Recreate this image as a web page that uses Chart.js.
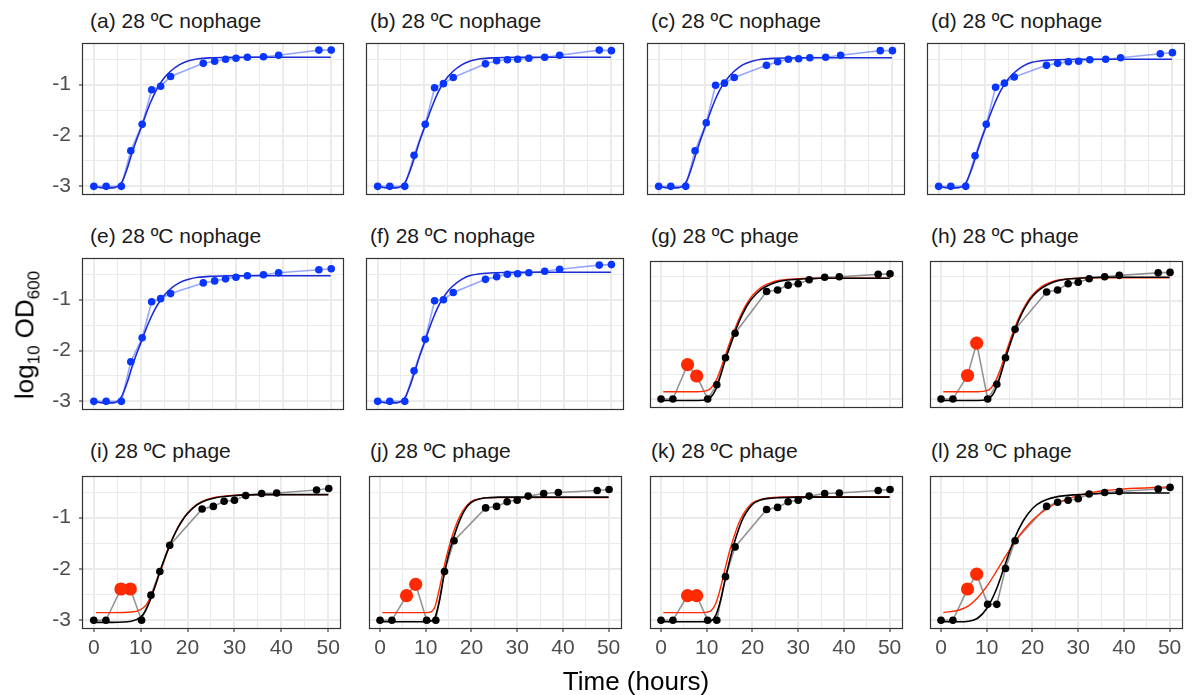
<!DOCTYPE html>
<html>
<head>
<meta charset="utf-8">
<script src="https://cdn.jsdelivr.net/npm/chart.js@4"></script>
<style>
  body { margin: 0; background: #fff; }
  #wrap { position: relative; width: 1196px; height: 695px; overflow: hidden; font-family: "Liberation Sans", Arial, sans-serif; }
  canvas { position: absolute; }
  .ttl { position: absolute; font-size: 21px; line-height: 21px; color: #1a1a1a; white-space: nowrap; }
  .axt { position: absolute; font-size: 26px; color: #000; white-space: nowrap; transform: translate(-50%, -50%); }
</style>
</head>
<body>
<div id="wrap"></div>
<script>
// sampling times (hours), shared by every panel
var times = [0, 2.6, 5.8, 7.8, 10.2, 12.2, 14.1, 16.2, 23.1, 25.5, 27.8, 30.0, 32.4, 35.8, 39.0, 47.5, 50.1];

// log10 OD600 readings, nophage panels
var odA = [-3, -3, -3, -2.30, -1.78, -1.10, -1.03, -0.84, -0.58, -0.54, -0.50, -0.48, -0.46, -0.45, -0.42, -0.32, -0.32];
var odB = [-3, -3, -3, -2.39, -1.78, -1.06, -0.98, -0.86, -0.59, -0.53, -0.51, -0.50, -0.48, -0.46, -0.42, -0.32, -0.33];
var odC = [-3, -3, -3, -2.30, -1.75, -1.01, -0.97, -0.86, -0.62, -0.55, -0.50, -0.49, -0.47, -0.46, -0.42, -0.33, -0.33];
var odD = [-3, -3, -3, -2.40, -1.78, -1.05, -0.97, -0.85, -0.62, -0.58, -0.55, -0.54, -0.51, -0.50, -0.47, -0.39, -0.37];
var odE = [-3, -3, -3, -2.22, -1.75, -1.04, -0.98, -0.88, -0.67, -0.63, -0.59, -0.56, -0.53, -0.51, -0.47, -0.41, -0.39];
var odF = [-3, -3, -3, -2.40, -1.78, -1.02, -1.00, -0.86, -0.60, -0.55, -0.50, -0.49, -0.47, -0.44, -0.40, -0.32, -0.31];

// phage panels (points 3 and 4 are the red ones)
var odG = [-3, -3, -2.30, -2.53, -3, -2.71, -2.16, -1.66, -0.81, -0.78, -0.68, -0.65, -0.57, -0.52, -0.51, -0.46, -0.45];
var odH = [-3, -3, -2.52, -1.86, -3, -2.70, -2.16, -1.58, -0.82, -0.78, -0.65, -0.62, -0.55, -0.51, -0.48, -0.43, -0.42];
var odI = [-3, -3, -2.39, -2.39, -3, -2.51, -2.05, -1.54, -0.83, -0.78, -0.68, -0.66, -0.57, -0.53, -0.52, -0.46, -0.43];
var odJ = [-3, -3, -2.52, -2.30, -3, -3, -2.05, -1.45, -0.81, -0.78, -0.69, -0.66, -0.58, -0.53, -0.51, -0.47, -0.45];
var odK = [-3, -3, -2.52, -2.52, -3, -3, -2.15, -1.57, -0.84, -0.80, -0.69, -0.66, -0.58, -0.53, -0.52, -0.47, -0.45];
var odL = [-3, -3, -2.39, -2.10, -2.69, -2.69, -1.99, -1.45, -0.78, -0.70, -0.66, -0.63, -0.54, -0.51, -0.49, -0.44, -0.41];
var redIdx = [2, 3];

// fitted growth curves
var fitT = [0, 2, 4, 5, 6, 7, 8, 9, 10, 11, 12, 13, 14, 15, 16, 18, 20, 22, 25, 30, 40, 50];
var fitA = [-3.00, -3.03, -3.03, -3.00, -2.90, -2.66, -2.36, -2.09, -1.84, -1.58, -1.34, -1.14, -0.98, -0.85, -0.75, -0.61, -0.53, -0.49, -0.47, -0.46, -0.46, -0.46];
var fitB = [-3.00, -3.03, -3.03, -3.00, -2.90, -2.68, -2.40, -2.11, -1.85, -1.59, -1.35, -1.14, -0.98, -0.85, -0.75, -0.61, -0.53, -0.49, -0.47, -0.46, -0.46, -0.46];
var fitC = [-3.00, -3.03, -3.03, -3.00, -2.89, -2.65, -2.36, -2.08, -1.82, -1.56, -1.32, -1.12, -0.97, -0.85, -0.75, -0.61, -0.54, -0.50, -0.48, -0.47, -0.47, -0.47];
var fitD = [-3.00, -3.03, -3.03, -3.00, -2.90, -2.68, -2.40, -2.12, -1.86, -1.60, -1.37, -1.17, -1.01, -0.88, -0.78, -0.64, -0.56, -0.53, -0.51, -0.50, -0.50, -0.50];
var fitE = [-3.00, -3.03, -3.03, -3.00, -2.88, -2.64, -2.34, -2.07, -1.83, -1.58, -1.36, -1.17, -1.02, -0.90, -0.80, -0.67, -0.60, -0.56, -0.54, -0.53, -0.53, -0.53];
var fitF = [-3.00, -3.03, -3.03, -3.00, -2.90, -2.68, -2.40, -2.11, -1.85, -1.58, -1.34, -1.13, -0.97, -0.84, -0.74, -0.60, -0.52, -0.49, -0.47, -0.46, -0.46, -0.46];

var blackT = [0, 4, 8, 10, 11, 12, 13, 14, 15, 16, 17, 18, 19, 20, 22, 24, 26, 30, 35, 40, 50];
var redT = [0.5, 4, 8, 10, 11, 12, 13, 14, 15, 16, 17, 18, 19, 20, 22, 24, 26, 30, 35, 40, 50];
var blackG = [-3.03, -3.03, -3.03, -3.01, -2.95, -2.80, -2.53, -2.22, -1.95, -1.68, -1.44, -1.24, -1.07, -0.94, -0.76, -0.66, -0.60, -0.56, -0.54, -0.54, -0.54];
var redG = [-2.85, -2.85, -2.85, -2.83, -2.77, -2.63, -2.40, -2.13, -1.86, -1.61, -1.38, -1.18, -1.02, -0.89, -0.72, -0.63, -0.58, -0.55, -0.54, -0.54, -0.54];
var blackH = [-3.03, -3.03, -3.03, -3.01, -2.95, -2.79, -2.52, -2.20, -1.91, -1.64, -1.40, -1.20, -1.04, -0.91, -0.74, -0.64, -0.58, -0.54, -0.52, -0.52, -0.52];
var redH = [-2.85, -2.85, -2.85, -2.83, -2.77, -2.62, -2.39, -2.11, -1.83, -1.58, -1.35, -1.16, -1.00, -0.88, -0.71, -0.62, -0.57, -0.54, -0.53, -0.53, -0.53];
var blackI = [-3.04, -3.04, -3.02, -2.94, -2.82, -2.62, -2.36, -2.08, -1.82, -1.58, -1.37, -1.19, -1.04, -0.92, -0.75, -0.66, -0.61, -0.57, -0.55, -0.55, -0.55];
var redI = [-2.85, -2.85, -2.84, -2.79, -2.72, -2.57, -2.35, -2.10, -1.84, -1.59, -1.37, -1.18, -1.03, -0.91, -0.74, -0.65, -0.60, -0.56, -0.55, -0.55, -0.55];
var blackJ = [-3.03, -3.03, -3.03, -3.03, -3.02, -2.95, -2.62, -2.12, -1.72, -1.42, -1.15, -0.94, -0.79, -0.70, -0.63, -0.61, -0.60, -0.60, -0.60, -0.60, -0.60];
var redJ = [-2.85, -2.85, -2.85, -2.85, -2.84, -2.74, -2.38, -1.96, -1.60, -1.30, -1.06, -0.88, -0.76, -0.68, -0.63, -0.61, -0.61, -0.61, -0.61, -0.61, -0.61];
var blackK = [-3.03, -3.03, -3.03, -3.03, -3.01, -2.90, -2.62, -2.22, -1.84, -1.50, -1.22, -1.00, -0.85, -0.74, -0.65, -0.62, -0.61, -0.60, -0.60, -0.60, -0.60];
var redK = [-2.85, -2.85, -2.85, -2.84, -2.81, -2.67, -2.37, -2.00, -1.65, -1.36, -1.11, -0.93, -0.80, -0.71, -0.64, -0.61, -0.60, -0.59, -0.59, -0.59, -0.59];
var blackLT = [0, 4, 6, 8, 10, 12, 14, 16, 18, 20, 22, 25, 30, 35, 40, 50];
var blackL = [-3.03, -3.03, -3.02, -2.96, -2.77, -2.42, -1.92, -1.42, -1.06, -0.82, -0.69, -0.60, -0.55, -0.53, -0.52, -0.52];
var redLT = [0.5, 4, 6, 8, 10, 12, 14, 16, 18, 20, 22, 25, 30, 35, 40, 50];
var redL = [-2.85, -2.80, -2.72, -2.56, -2.34, -2.06, -1.77, -1.49, -1.25, -1.05, -0.90, -0.73, -0.57, -0.48, -0.44, -0.40];

var titles = ['(a) 28 ºC nophage', '(b) 28 ºC nophage', '(c) 28 ºC nophage', '(d) 28 ºC nophage',
  '(e) 28 ºC nophage', '(f) 28 ºC nophage', '(g) 28 ºC phage', '(h) 28 ºC phage',
  '(i) 28 ºC phage', '(j) 28 ºC phage', '(k) 28 ºC phage', '(l) 28 ºC phage'];

var xTicks = [0, 10, 20, 30, 40, 50];
var xGrid = [0, 5, 10, 15, 20, 25, 30, 35, 40, 45, 50];
var yTicks = [-3, -2, -1];
var yGrid = [-3, -2.5, -2, -1.5, -1, -0.5];

var panels = [
  { od: odA, fits: [[fitT, fitA, 'blue']] },
  { od: odB, fits: [[fitT, fitB, 'blue']] },
  { od: odC, fits: [[fitT, fitC, 'blue']] },
  { od: odD, fits: [[fitT, fitD, 'blue']] },
  { od: odE, fits: [[fitT, fitE, 'blue']] },
  { od: odF, fits: [[fitT, fitF, 'blue']] },
  { od: odG, phage: true, fits: [[blackT, blackG, 'black'], [redT, redG, 'red']] },
  { od: odH, phage: true, fits: [[blackT, blackH, 'black'], [redT, redH, 'red']] },
  { od: odI, phage: true, fits: [[blackT, blackI, 'black'], [redT, redI, 'red']] },
  { od: odJ, phage: true, fits: [[blackT, blackJ, 'black'], [redT, redJ, 'red']] },
  { od: odK, phage: true, fits: [[blackT, blackK, 'black'], [redT, redK, 'red']] },
  { od: odL, phage: true, fits: [[blackLT, blackL, 'black'], [redLT, redL, 'red']] }
];

var colLeft = [82, 362, 643, 923];
var rowTop = [39, 254, 469];
var PW = 266, PH = 160, LEFTW = 82, BOTH = 40;
var BLUE = '#0836ff', BLUE_FIT = '#1b2bd6', RED = '#ff2a00';
var FONT = '"Liberation Sans", Arial, sans-serif';

var lineCol = { blue: BLUE_FIT, black: '#000000', red: RED };

var frame = {
  id: 'frame',
  afterDraw: function (chart) {
    var a = chart.chartArea, c = chart.ctx;
    c.save();
    c.strokeStyle = '#333333';
    c.lineWidth = 1.2;
    c.strokeRect(Math.round(a.left) + 0.5, Math.round(a.top) + 0.5, Math.round(a.right - a.left) - 1, Math.round(a.bottom - a.top) - 1);
    c.restore();
  }
};

function noPad(s) {
  s.paddingLeft = 0; s.paddingRight = 0; s.paddingTop = 0; s.paddingBottom = 0;
}

function pts(xs, ys) {
  return xs.map(function (x, i) { return { x: x, y: ys[i] }; });
}

var wrap = document.getElementById('wrap');

panels.forEach(function (p, k) {
  var col = k % 4, row = Math.floor(k / 4);
  var showY = col === 0, showX = row === 2;
  var cv = document.createElement('canvas');
  var w = PW + (showY ? LEFTW : 0), h = PH + (showX ? BOTH : 0);
  cv.width = w; cv.height = h;
  cv.style.left = (colLeft[col] - (showY ? LEFTW : 0)) + 'px';
  cv.style.top = rowTop[row] + 'px';
  wrap.appendChild(cv);

  var t = document.createElement('div');
  t.className = 'ttl';
  t.textContent = titles[k];
  t.style.left = (colLeft[col] + 8) + 'px';
  t.style.top = (rowTop[row] - 29) + 'px';
  wrap.appendChild(t);

  var ds = [];
  ds.push({
    data: pts(times, p.od), showLine: true, pointRadius: 0,
    borderColor: p.phage ? 'rgba(90,90,90,0.65)' : 'rgba(50,80,255,0.5)', borderWidth: 1.6, order: 3
  });
  p.fits.forEach(function (f) {
    ds.push({
      data: pts(f[0], f[1]), showLine: true, pointRadius: 0, cubicInterpolationMode: 'monotone',
      borderColor: lineCol[f[2]], borderWidth: f[2] === 'red' ? 1.4 : 1.6, order: 2
    });
  });
  ds.push({
    data: pts(times, p.od), showLine: false,
    pointRadius: p.od.map(function (v, i) { return p.phage && redIdx.indexOf(i) >= 0 ? 6.6 : 3.8; }),
    pointBackgroundColor: p.od.map(function (v, i) { return p.phage ? (redIdx.indexOf(i) >= 0 ? RED : '#000') : BLUE; }),
    pointBorderWidth: 0, order: 1
  });

  new Chart(cv, {
    type: 'scatter',
    data: { datasets: ds },
    options: {
      responsive: false, animation: false,
      layout: { padding: 0 },
      plugins: { legend: { display: false }, tooltip: { enabled: false } },
      scales: {
        x: {
          type: 'linear', min: -2.5, max: 52.8,
          afterBuildTicks: function (s) { s.ticks = xGrid.map(function (v) { return { value: v }; }); },
          afterFit: function (s) { s.height = showX ? BOTH : 0; noPad(s); },
          border: { display: false },
          grid: {
            color: '#ebebeb',
            lineWidth: function (c) { return c.tick && xTicks.indexOf(c.tick.value) >= 0 ? 2 : 1; },
            drawTicks: showX, tickLength: 3, tickWidth: 1.1,
            tickColor: function (c) { return c.tick && xTicks.indexOf(c.tick.value) >= 0 ? '#333333' : 'rgba(0,0,0,0)'; }
          },
          ticks: {
            display: showX, autoSkip: false, maxRotation: 0, padding: 4, color: '#4d4d4d',
            font: { family: FONT, size: 21 },
            callback: function (v) { return xTicks.indexOf(v) >= 0 ? String(v) : ''; }
          }
        },
        y: {
          type: 'linear', min: -3.17, max: -0.18,
          afterBuildTicks: function (s) { s.ticks = yGrid.map(function (v) { return { value: v }; }); },
          afterFit: function (s) { s.width = showY ? LEFTW : 0; noPad(s); },
          border: { display: false },
          grid: {
            color: '#ebebeb',
            lineWidth: function (c) { return c.tick && yTicks.indexOf(c.tick.value) >= 0 ? 2 : 1; },
            drawTicks: showY, tickLength: 3, tickWidth: 1.1,
            tickColor: function (c) { return c.tick && yTicks.indexOf(c.tick.value) >= 0 ? '#333333' : 'rgba(0,0,0,0)'; }
          },
          ticks: {
            display: showY, autoSkip: false, padding: 8, color: '#4d4d4d',
            font: { family: FONT, size: 21 },
            callback: function (v) { return yTicks.indexOf(v) >= 0 ? String(v) : ''; }
          }
        }
      }
    },
    plugins: [frame]
  });
});

var yl = document.createElement('div');
yl.className = 'axt';
yl.innerHTML = 'log<sub style="font-size:17px">10</sub> OD<sub style="font-size:17px">600</sub>';
yl.style.left = '27px'; yl.style.top = '335px';
yl.style.transform = 'translate(-50%, -50%) rotate(-90deg)';
wrap.appendChild(yl);

var xl = document.createElement('div');
xl.className = 'axt';
xl.textContent = 'Time (hours)';
xl.style.left = '636px'; xl.style.top = '681px';
wrap.appendChild(xl);
</script>
</body>
</html>
